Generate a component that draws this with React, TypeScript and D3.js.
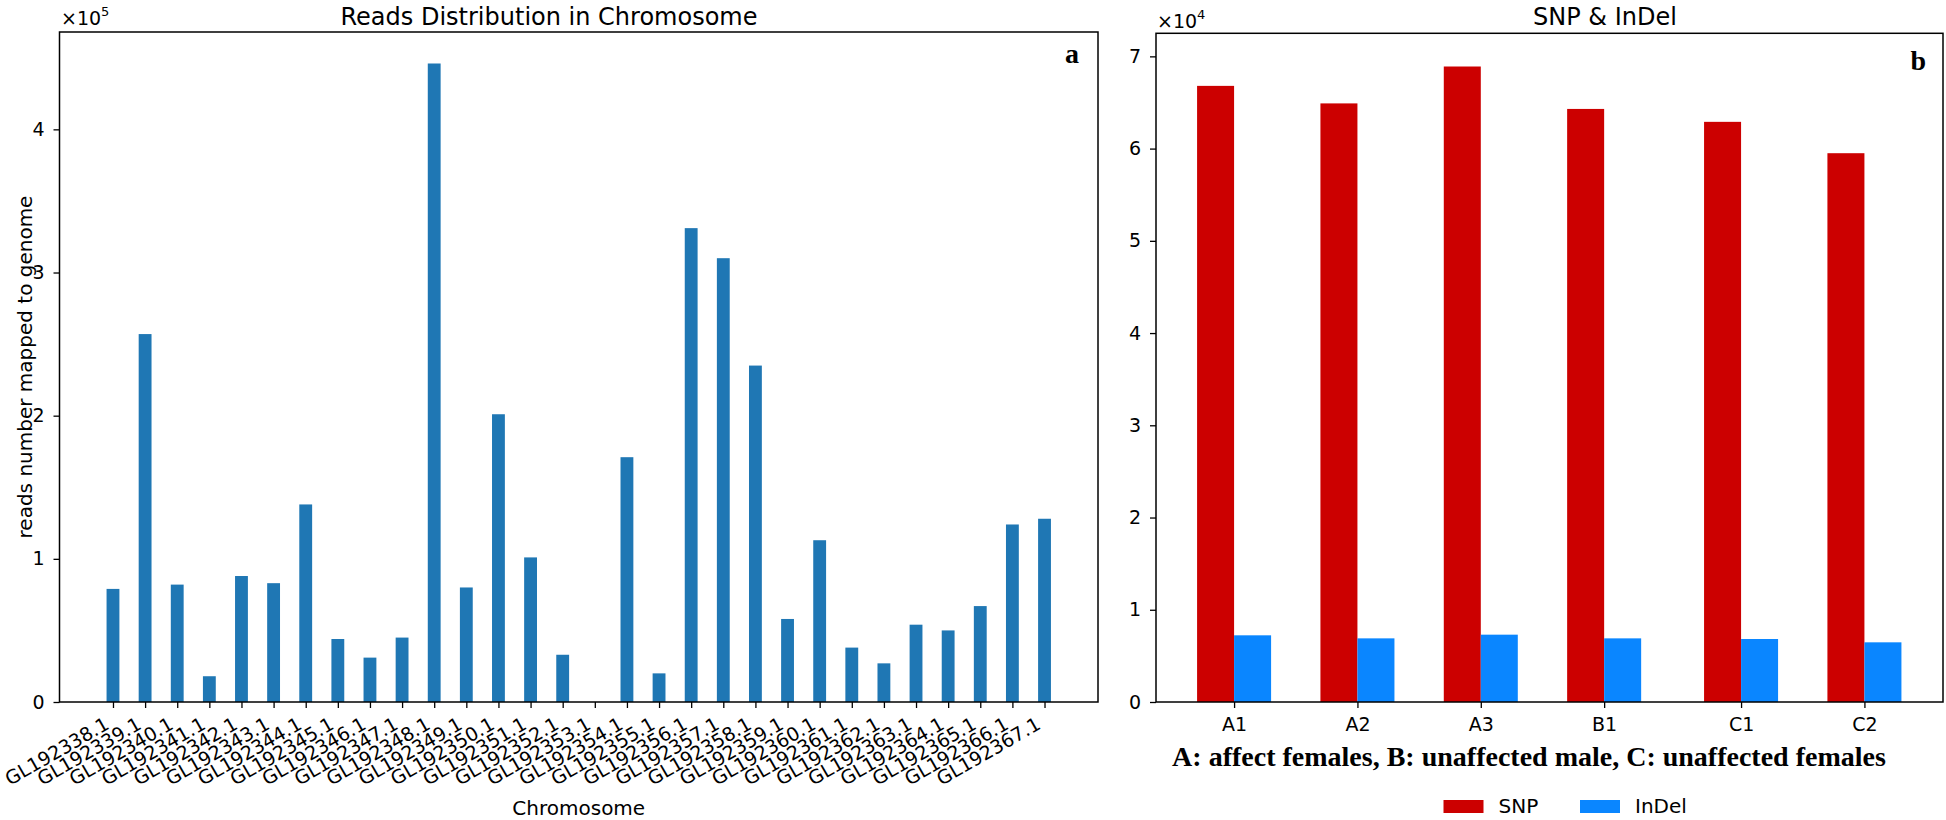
import React, { useEffect, useRef } from 'react'
import * as d3 from 'd3'

// panel a: reads per chromosome scaffold
const chromosomes = [
  'GL192338.1', 'GL192339.1', 'GL192340.1', 'GL192341.1', 'GL192342.1',
  'GL192343.1', 'GL192344.1', 'GL192345.1', 'GL192346.1', 'GL192347.1',
  'GL192348.1', 'GL192349.1', 'GL192350.1', 'GL192351.1', 'GL192352.1',
  'GL192353.1', 'GL192354.1', 'GL192355.1', 'GL192356.1', 'GL192357.1',
  'GL192358.1', 'GL192359.1', 'GL192360.1', 'GL192361.1', 'GL192362.1',
  'GL192363.1', 'GL192364.1', 'GL192365.1', 'GL192366.1', 'GL192367.1',
]
const reads = [
  79000, 257000, 82000, 18000, 88000, 83000, 138000, 44000, 31000, 45000,
  446000, 80000, 201000, 101000, 33000, 0, 171000, 20000, 331000, 310000,
  235000, 58000, 113000, 38000, 27000, 54000, 50000, 67000, 124000, 128000,
]
const readsTicks = [0, 1, 2, 3, 4]

// panel b: variants per sample
const samples = ['A1', 'A2', 'A3', 'B1', 'C1', 'C2']
const samplePos = [0, 1, 2, 3, 4.11, 5.11]
const snp = [66800, 64900, 68900, 64300, 62900, 59500]
const indel = [7230, 6900, 7300, 6900, 6830, 6470]
const variantTicks = [0, 1, 2, 3, 4, 5, 6, 7]

const FONT = 'DejaVu Sans, sans-serif'
const SERIF = 'Liberation Serif, Times New Roman, serif'
const BLUE = '#1f77b4'
const RED = '#cc0000'
const SKY = '#0a86ff'

export default function App() {
  const svgRef = useRef<SVGSVGElement>(null)

  useEffect(() => {
    const svg = d3.select(svgRef.current)
    svg.selectAll('*').remove()

    // ---------- panel a ----------
    const a = { left: 59.5, right: 1098, top: 32, bottom: 702 }
    const xa = d3.scaleLinear().domain([-1.665, 30.665]).range([a.left, a.right])
    const ya = d3.scaleLinear().domain([0, 468000]).range([a.bottom, a.top])
    const bw = xa(0.4) - xa(0)

    svg.append('g').selectAll('rect').data(reads).enter().append('rect')
      .attr('x', (d, i) => xa(i) - bw / 2)
      .attr('y', d => ya(d))
      .attr('width', bw)
      .attr('height', d => ya(0) - ya(d))
      .attr('fill', BLUE)

    const yAxisA = svg.append('g')
      .attr('transform', `translate(${a.left},0)`)
      .call(d3.axisLeft(ya).tickValues(readsTicks.map(t => t * 1e5)).tickFormat((d: any) => String(d / 1e5)).tickSize(6).tickPadding(9))
    yAxisA.select('.domain').remove()
    yAxisA.selectAll('text').style('font-family', FONT).style('font-size', '19px').attr('fill', '#000')
    yAxisA.selectAll('line').attr('stroke', '#000').attr('stroke-width', 1.3)

    const xAxisA = svg.append('g')
      .attr('transform', `translate(0,${a.bottom})`)
      .call(d3.axisBottom(xa).tickValues(d3.range(chromosomes.length)).tickFormat((d: any) => chromosomes[d]).tickSize(6))
    xAxisA.select('.domain').remove()
    xAxisA.selectAll('line').attr('stroke', '#000').attr('stroke-width', 1.3)
    xAxisA.selectAll('text')
      .attr('x', 0).attr('y', 0).attr('dy', 0)
      .attr('text-anchor', 'end')
      .attr('transform', 'translate(-3,26) rotate(-30)')
      .style('font-family', FONT).style('font-size', '19px').attr('fill', '#000')

    svg.append('rect')
      .attr('x', a.left).attr('y', a.top)
      .attr('width', a.right - a.left).attr('height', a.bottom - a.top)
      .attr('fill', 'none').attr('stroke', '#000').attr('stroke-width', 1.5)

    svg.append('text').attr('x', 549).attr('y', 25).attr('text-anchor', 'middle')
      .style('font-family', FONT).style('font-size', '24px').text('Reads Distribution in Chromosome')

    const offA = svg.append('text').attr('x', 61).attr('y', 25)
      .style('font-family', FONT).style('font-size', '19px')
    offA.append('tspan').text('×10')
    offA.append('tspan').attr('dy', -9).style('font-size', '13px').text('5')

    svg.append('text').attr('transform', `translate(32,${(a.top + a.bottom) / 2}) rotate(-90)`)
      .attr('text-anchor', 'middle')
      .style('font-family', FONT).style('font-size', '20px').text('reads number mapped to genome')

    svg.append('text').attr('x', (a.left + a.right) / 2).attr('y', 815).attr('text-anchor', 'middle')
      .style('font-family', FONT).style('font-size', '20px').text('Chromosome')

    svg.append('text').attr('x', a.right - 19).attr('y', 63).attr('text-anchor', 'end')
      .style('font-family', SERIF).style('font-weight', 'bold').style('font-size', '28px').text('a')

    // ---------- panel b ----------
    const b = { left: 1156, right: 1943, top: 33.3, bottom: 702 }
    const xb = d3.scaleLinear().domain([-0.633, 5.747]).range([b.left, b.right])
    const yb = d3.scaleLinear().domain([0, 72500]).range([b.bottom, b.top])
    const gw = xb(0.3) - xb(0)

    svg.append('g').selectAll('rect').data(snp).enter().append('rect')
      .attr('x', (d, i) => xb(samplePos[i]) - gw)
      .attr('y', d => yb(d))
      .attr('width', gw)
      .attr('height', d => yb(0) - yb(d))
      .attr('fill', RED)

    svg.append('g').selectAll('rect').data(indel).enter().append('rect')
      .attr('x', (d, i) => xb(samplePos[i]))
      .attr('y', d => yb(d))
      .attr('width', gw)
      .attr('height', d => yb(0) - yb(d))
      .attr('fill', SKY)

    const yAxisB = svg.append('g')
      .attr('transform', `translate(${b.left},0)`)
      .call(d3.axisLeft(yb).tickValues(variantTicks.map(t => t * 1e4)).tickFormat((d: any) => String(d / 1e4)).tickSize(6).tickPadding(9))
    yAxisB.select('.domain').remove()
    yAxisB.selectAll('text').style('font-family', FONT).style('font-size', '19px').attr('fill', '#000')
    yAxisB.selectAll('line').attr('stroke', '#000').attr('stroke-width', 1.3)

    const xAxisB = svg.append('g')
      .attr('transform', `translate(0,${b.bottom})`)
      .call(d3.axisBottom(xb).tickValues(samplePos).tickFormat((d: any, i: number) => samples[i]).tickSize(6).tickPadding(10))
    xAxisB.select('.domain').remove()
    xAxisB.selectAll('line').attr('stroke', '#000').attr('stroke-width', 1.3)
    xAxisB.selectAll('text').style('font-family', FONT).style('font-size', '19px').attr('fill', '#000')

    svg.append('rect')
      .attr('x', b.left).attr('y', b.top)
      .attr('width', b.right - b.left).attr('height', b.bottom - b.top)
      .attr('fill', 'none').attr('stroke', '#000').attr('stroke-width', 1.5)

    svg.append('text').attr('x', 1605).attr('y', 25).attr('text-anchor', 'middle')
      .style('font-family', FONT).style('font-size', '24px').text('SNP & InDel')

    const offB = svg.append('text').attr('x', 1157).attr('y', 28)
      .style('font-family', FONT).style('font-size', '19px')
    offB.append('tspan').text('×10')
    offB.append('tspan').attr('dy', -9).style('font-size', '13px').text('4')

    svg.append('text').attr('x', 1529).attr('y', 766).attr('text-anchor', 'middle')
      .style('font-family', SERIF).style('font-weight', 'bold').style('font-size', '28px')
      .text('A: affect females, B: unaffected male, C: unaffected females')

    svg.append('text').attr('x', b.right - 17).attr('y', 70).attr('text-anchor', 'end')
      .style('font-family', SERIF).style('font-weight', 'bold').style('font-size', '28px').text('b')

    // legend
    const legend = [
      { name: 'SNP', color: RED, x: 1443.5 },
      { name: 'InDel', color: SKY, x: 1580 },
    ]
    const lg = svg.append('g').selectAll('g').data(legend).enter().append('g')
      .attr('transform', d => `translate(${d.x},800)`)
    lg.append('rect').attr('width', 40).attr('height', 13).attr('fill', d => d.color)
    lg.append('text').attr('x', 55).attr('y', 13)
      .style('font-family', FONT).style('font-size', '20px').text(d => d.name)
  }, [])

  return (
    <svg ref={svgRef} width={1946} height={820}
      style={{ position: 'absolute', left: 0, top: 0, background: '#fff' }} />
  )
}
